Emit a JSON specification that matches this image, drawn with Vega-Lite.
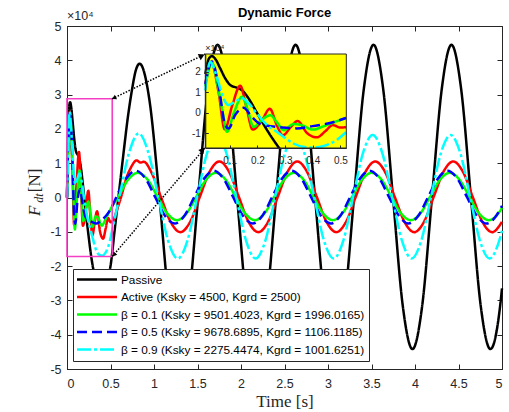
{
"$schema":"https://vega.github.io/schema/vega-lite/v6.json",
"width":435,"height":343,
"autosize":{"type":"none"},
"padding":{"left":67,"top":26,"right":7,"bottom":43},
"config":{
 "view":{"stroke":"#262626","strokeWidth":1},
 "axis":{"grid":false,"domainColor":"#262626","tickColor":"#262626","labelColor":"#262626","labelFont":"Liberation Sans","labelFontSize":12.5,"tickSize":-5,"labelOverlap":false,"titleFont":"Liberation Serif","titleFontWeight":"normal","titleColor":"#262626"}
},
"title":{"text":"Dynamic Force","font":"Liberation Sans","fontSize":13,"fontWeight":"bold","color":"#000000","offset":-10},
"data":{"values":[
{"s":"P","t":0,"v":0},{"s":"P","t":0.012,"v":1.9},{"s":"P","t":0.025,"v":2.65},{"s":"P","t":0.036,"v":2.78},{"s":"P","t":0.05,"v":2.6},{"s":"P","t":0.065,"v":2.2},{"s":"P","t":0.084,"v":1.69},{"s":"P","t":0.102,"v":1.36},{"s":"P","t":0.126,"v":1.23},{"s":"P","t":0.145,"v":1.1},{"s":"P","t":0.168,"v":0.71},{"s":"P","t":0.193,"v":0.13},{"s":"P","t":0.217,"v":-0.44},{"s":"P","t":0.247,"v":-1.1},{"s":"P","t":0.28,"v":-1.75},{"s":"P","t":0.33,"v":-2.4},{"s":"P","t":0.39,"v":-2.7},{"s":"P","t":0.45,"v":-2.45},{"s":"P","t":0.5,"v":-2.0},{"s":"P","t":0.55,"v":-0.9},{"s":"P","t":0.6,"v":0.2},{"s":"P","t":0.65,"v":1.3},{"s":"P","t":0.7,"v":2.35},{"s":"P","t":0.747,"v":3.14},{"s":"P","t":0.79,"v":3.7},{"s":"P","t":0.835,"v":3.9},{"s":"P","t":0.947,"v":2.85},{"s":"P","t":1.059,"v":0.1},{"s":"P","t":1.171,"v":-3.0},{"s":"P","t":1.283,"v":-4.3},{"s":"P","t":1.395,"v":-3.1},{"s":"P","t":1.507,"v":0},{"s":"P","t":1.619,"v":3.15},{"s":"P","t":1.731,"v":4.45},{"s":"P","t":1.843,"v":3.15},{"s":"P","t":1.955,"v":0},{"s":"P","t":2.067,"v":-3.15},{"s":"P","t":2.179,"v":-4.45},{"s":"P","t":2.291,"v":-3.15},{"s":"P","t":2.403,"v":0},{"s":"P","t":2.515,"v":3.15},{"s":"P","t":2.627,"v":4.45},{"s":"P","t":2.739,"v":3.15},{"s":"P","t":2.851,"v":0},{"s":"P","t":2.963,"v":-3.15},{"s":"P","t":3.075,"v":-4.45},{"s":"P","t":3.187,"v":-3.15},{"s":"P","t":3.299,"v":0},{"s":"P","t":3.411,"v":3.15},{"s":"P","t":3.523,"v":4.45},{"s":"P","t":3.635,"v":3.15},{"s":"P","t":3.747,"v":0},{"s":"P","t":3.859,"v":-3.15},{"s":"P","t":3.971,"v":-4.42},{"s":"P","t":4.083,"v":-3.15},{"s":"P","t":4.195,"v":0},{"s":"P","t":4.307,"v":3.15},{"s":"P","t":4.419,"v":4.45},{"s":"P","t":4.531,"v":3.15},{"s":"P","t":4.643,"v":0},{"s":"P","t":4.755,"v":-3.15},{"s":"P","t":4.867,"v":-4.42},{"s":"P","t":4.979,"v":-3.15},{"s":"P","t":5.0,"v":-2.65},
{"s":"A","t":0,"v":0},{"s":"A","t":0.012,"v":1.4},{"s":"A","t":0.033,"v":2.5},{"s":"A","t":0.06,"v":1.0},{"s":"A","t":0.082,"v":-0.8},{"s":"A","t":0.11,"v":0.4},{"s":"A","t":0.138,"v":1.33},{"s":"A","t":0.16,"v":0.3},{"s":"A","t":0.183,"v":-0.82},{"s":"A","t":0.215,"v":-0.4},{"s":"A","t":0.245,"v":0.2},{"s":"A","t":0.27,"v":-0.6},{"s":"A","t":0.292,"v":-1.1},{"s":"A","t":0.32,"v":-0.7},{"s":"A","t":0.345,"v":-0.4},{"s":"A","t":0.38,"v":-1.0},{"s":"A","t":0.415,"v":-1.2},{"s":"A","t":0.445,"v":-0.9},{"s":"A","t":0.472,"v":-0.6},{"s":"A","t":0.5,"v":-0.72},{"s":"A","t":0.52,"v":-0.7},{"s":"A","t":0.575,"v":-0.35},{"s":"A","t":0.62,"v":0.0},{"s":"A","t":0.68,"v":0.55},{"s":"A","t":0.73,"v":0.85},{"s":"A","t":0.8,"v":1.08},{"s":"A","t":0.845,"v":1.02},{"s":"A","t":0.885,"v":1.04},{"s":"A","t":0.967,"v":0.75},{"s":"A","t":1.079,"v":0.02},{"s":"A","t":1.191,"v":-0.71},{"s":"A","t":1.303,"v":-1.01},{"s":"A","t":1.415,"v":-0.71},{"s":"A","t":1.527,"v":0.02},{"s":"A","t":1.639,"v":0.75},{"s":"A","t":1.751,"v":1.05},{"s":"A","t":1.863,"v":0.75},{"s":"A","t":1.975,"v":0.02},{"s":"A","t":2.087,"v":-0.71},{"s":"A","t":2.199,"v":-1.01},{"s":"A","t":2.311,"v":-0.71},{"s":"A","t":2.423,"v":0.02},{"s":"A","t":2.535,"v":0.75},{"s":"A","t":2.647,"v":1.05},{"s":"A","t":2.759,"v":0.75},{"s":"A","t":2.871,"v":0.02},{"s":"A","t":2.983,"v":-0.71},{"s":"A","t":3.095,"v":-1.01},{"s":"A","t":3.207,"v":-0.71},{"s":"A","t":3.319,"v":0.02},{"s":"A","t":3.431,"v":0.75},{"s":"A","t":3.543,"v":1.05},{"s":"A","t":3.655,"v":0.75},{"s":"A","t":3.767,"v":0.02},{"s":"A","t":3.879,"v":-0.71},{"s":"A","t":3.991,"v":-1.01},{"s":"A","t":4.103,"v":-0.71},{"s":"A","t":4.215,"v":0.02},{"s":"A","t":4.327,"v":0.75},{"s":"A","t":4.439,"v":1.05},{"s":"A","t":4.551,"v":0.75},{"s":"A","t":4.663,"v":0.02},{"s":"A","t":4.775,"v":-0.71},{"s":"A","t":4.887,"v":-1.01},{"s":"A","t":4.999,"v":-0.71},
{"s":"B1","t":0,"v":0},{"s":"B1","t":0.012,"v":1.3},{"s":"B1","t":0.036,"v":2.43},{"s":"B1","t":0.06,"v":1.1},{"s":"B1","t":0.075,"v":0.0},{"s":"B1","t":0.09,"v":-0.93},{"s":"B1","t":0.115,"v":0.0},{"s":"B1","t":0.145,"v":0.79},{"s":"B1","t":0.165,"v":0.15},{"s":"B1","t":0.186,"v":-0.69},{"s":"B1","t":0.215,"v":-0.35},{"s":"B1","t":0.247,"v":-0.12},{"s":"B1","t":0.27,"v":-0.45},{"s":"B1","t":0.295,"v":-0.85},{"s":"B1","t":0.33,"v":-0.55},{"s":"B1","t":0.36,"v":-0.6},{"s":"B1","t":0.4,"v":-0.82},{"s":"B1","t":0.44,"v":-0.65},{"s":"B1","t":0.479,"v":-0.45},{"s":"B1","t":0.52,"v":-0.25},{"s":"B1","t":0.591,"v":0.03},{"s":"B1","t":0.703,"v":0.52},{"s":"B1","t":0.815,"v":0.72},{"s":"B1","t":0.927,"v":0.52},{"s":"B1","t":1.039,"v":0.03},{"s":"B1","t":1.151,"v":-0.46},{"s":"B1","t":1.263,"v":-0.66},{"s":"B1","t":1.375,"v":-0.46},{"s":"B1","t":1.487,"v":0.03},{"s":"B1","t":1.599,"v":0.52},{"s":"B1","t":1.711,"v":0.72},{"s":"B1","t":1.823,"v":0.52},{"s":"B1","t":1.935,"v":0.03},{"s":"B1","t":2.047,"v":-0.46},{"s":"B1","t":2.159,"v":-0.66},{"s":"B1","t":2.271,"v":-0.46},{"s":"B1","t":2.383,"v":0.03},{"s":"B1","t":2.495,"v":0.52},{"s":"B1","t":2.607,"v":0.72},{"s":"B1","t":2.719,"v":0.52},{"s":"B1","t":2.831,"v":0.03},{"s":"B1","t":2.943,"v":-0.46},{"s":"B1","t":3.055,"v":-0.66},{"s":"B1","t":3.167,"v":-0.46},{"s":"B1","t":3.279,"v":0.03},{"s":"B1","t":3.391,"v":0.52},{"s":"B1","t":3.503,"v":0.72},{"s":"B1","t":3.615,"v":0.52},{"s":"B1","t":3.727,"v":0.03},{"s":"B1","t":3.839,"v":-0.46},{"s":"B1","t":3.951,"v":-0.66},{"s":"B1","t":4.063,"v":-0.46},{"s":"B1","t":4.175,"v":0.03},{"s":"B1","t":4.287,"v":0.52},{"s":"B1","t":4.399,"v":0.72},{"s":"B1","t":4.511,"v":0.52},{"s":"B1","t":4.623,"v":0.03},{"s":"B1","t":4.735,"v":-0.46},{"s":"B1","t":4.847,"v":-0.66},{"s":"B1","t":4.959,"v":-0.46},{"s":"B1","t":5.0,"v":-0.3},
{"s":"B5","t":0,"v":0},{"s":"B5","t":0.012,"v":1.4},{"s":"B5","t":0.036,"v":2.51},{"s":"B5","t":0.06,"v":1.3},{"s":"B5","t":0.084,"v":-0.6},{"s":"B5","t":0.096,"v":-0.77},{"s":"B5","t":0.12,"v":-0.1},{"s":"B5","t":0.15,"v":0.25},{"s":"B5","t":0.18,"v":-0.2},{"s":"B5","t":0.21,"v":-0.55},{"s":"B5","t":0.247,"v":-0.65},{"s":"B5","t":0.29,"v":-0.72},{"s":"B5","t":0.342,"v":-0.76},{"s":"B5","t":0.4,"v":-0.65},{"s":"B5","t":0.454,"v":-0.52},{"s":"B5","t":0.52,"v":-0.25},{"s":"B5","t":0.566,"v":0.01},{"s":"B5","t":0.678,"v":0.55},{"s":"B5","t":0.79,"v":0.78},{"s":"B5","t":0.902,"v":0.55},{"s":"B5","t":1.014,"v":0.01},{"s":"B5","t":1.126,"v":-0.53},{"s":"B5","t":1.238,"v":-0.76},{"s":"B5","t":1.35,"v":-0.53},{"s":"B5","t":1.462,"v":0.01},{"s":"B5","t":1.574,"v":0.55},{"s":"B5","t":1.686,"v":0.78},{"s":"B5","t":1.798,"v":0.55},{"s":"B5","t":1.91,"v":0.01},{"s":"B5","t":2.022,"v":-0.53},{"s":"B5","t":2.134,"v":-0.76},{"s":"B5","t":2.246,"v":-0.53},{"s":"B5","t":2.358,"v":0.01},{"s":"B5","t":2.47,"v":0.55},{"s":"B5","t":2.582,"v":0.78},{"s":"B5","t":2.694,"v":0.55},{"s":"B5","t":2.806,"v":0.01},{"s":"B5","t":2.918,"v":-0.53},{"s":"B5","t":3.03,"v":-0.76},{"s":"B5","t":3.142,"v":-0.53},{"s":"B5","t":3.254,"v":0.01},{"s":"B5","t":3.366,"v":0.55},{"s":"B5","t":3.478,"v":0.78},{"s":"B5","t":3.59,"v":0.55},{"s":"B5","t":3.702,"v":0.01},{"s":"B5","t":3.814,"v":-0.53},{"s":"B5","t":3.926,"v":-0.76},{"s":"B5","t":4.038,"v":-0.53},{"s":"B5","t":4.15,"v":0.01},{"s":"B5","t":4.262,"v":0.55},{"s":"B5","t":4.374,"v":0.78},{"s":"B5","t":4.486,"v":0.55},{"s":"B5","t":4.598,"v":0.01},{"s":"B5","t":4.71,"v":-0.53},{"s":"B5","t":4.822,"v":-0.76},{"s":"B5","t":4.934,"v":-0.53},{"s":"B5","t":5.0,"v":-0.24},
{"s":"B9","t":0,"v":0},{"s":"B9","t":0.012,"v":1.1},{"s":"B9","t":0.03,"v":2.5},{"s":"B9","t":0.048,"v":2.0},{"s":"B9","t":0.066,"v":1.2},{"s":"B9","t":0.084,"v":0.54},{"s":"B9","t":0.096,"v":0.38},{"s":"B9","t":0.12,"v":0.55},{"s":"B9","t":0.145,"v":0.71},{"s":"B9","t":0.17,"v":0.45},{"s":"B9","t":0.193,"v":0.05},{"s":"B9","t":0.235,"v":-0.6},{"s":"B9","t":0.265,"v":-0.88},{"s":"B9","t":0.295,"v":-1.18},{"s":"B9","t":0.33,"v":-1.5},{"s":"B9","t":0.37,"v":-1.67},{"s":"B9","t":0.405,"v":-1.7},{"s":"B9","t":0.44,"v":-1.62},{"s":"B9","t":0.489,"v":-1.3},{"s":"B9","t":0.52,"v":-0.95},{"s":"B9","t":0.601,"v":0.0},{"s":"B9","t":0.713,"v":1.3},{"s":"B9","t":0.825,"v":1.87},{"s":"B9","t":0.937,"v":1.29},{"s":"B9","t":1.049,"v":0.02},{"s":"B9","t":1.161,"v":-1.25},{"s":"B9","t":1.273,"v":-1.78},{"s":"B9","t":1.385,"v":-1.25},{"s":"B9","t":1.497,"v":0.02},{"s":"B9","t":1.609,"v":1.29},{"s":"B9","t":1.721,"v":1.82},{"s":"B9","t":1.833,"v":1.29},{"s":"B9","t":1.945,"v":0.02},{"s":"B9","t":2.057,"v":-1.25},{"s":"B9","t":2.169,"v":-1.78},{"s":"B9","t":2.281,"v":-1.25},{"s":"B9","t":2.393,"v":0.02},{"s":"B9","t":2.505,"v":1.29},{"s":"B9","t":2.617,"v":1.82},{"s":"B9","t":2.729,"v":1.29},{"s":"B9","t":2.841,"v":0.02},{"s":"B9","t":2.953,"v":-1.25},{"s":"B9","t":3.065,"v":-1.78},{"s":"B9","t":3.177,"v":-1.25},{"s":"B9","t":3.289,"v":0.02},{"s":"B9","t":3.401,"v":1.29},{"s":"B9","t":3.513,"v":1.82},{"s":"B9","t":3.625,"v":1.29},{"s":"B9","t":3.737,"v":0.02},{"s":"B9","t":3.849,"v":-1.25},{"s":"B9","t":3.961,"v":-1.78},{"s":"B9","t":4.073,"v":-1.25},{"s":"B9","t":4.185,"v":0.02},{"s":"B9","t":4.297,"v":1.29},{"s":"B9","t":4.409,"v":1.82},{"s":"B9","t":4.521,"v":1.29},{"s":"B9","t":4.633,"v":0.02},{"s":"B9","t":4.745,"v":-1.25},{"s":"B9","t":4.857,"v":-1.78},{"s":"B9","t":4.969,"v":-1.25},{"s":"B9","t":5.0,"v":-0.97}
]},
"layer":[
 {"layer":[
  {"mark":{"type":"line","strokeWidth":2.5,"interpolate":"monotone"},
   "encoding":{
    "x":{"field":"t","type":"quantitative","scale":{"domain":[0,5],"nice":false,"zero":false},
         "axis":{"orient":"bottom","values":[0,0.5,1,1.5,2,2.5,3,3.5,4,4.5,5],"labelExpr":"''+datum.value","labelPadding":13,"title":"Time [s]","titleFontSize":17,"titlePadding":4}},
    "y":{"field":"v","type":"quantitative","scale":{"domain":[-5,5],"nice":false,"zero":false},
         "axis":{"orient":"left","values":[-5,-4,-3,-2,-1,0,1,2,3,4,5],"tickCount":11,"labelOverlap":false,"labelSeparation":0,"labelExpr":"''+datum.value","labelPadding":11,"title":null}},
    "color":{"field":"s","type":"nominal","scale":{"domain":["P","A","B1","B5","B9"],"range":["#000000","#ff0000","#00ff00","#0000ff","#00ffff"]},
      "legend":{"orient":"none","legendX":6,"legendY":243,"title":null,"fillColor":"#ffffff","strokeColor":"#262626","padding":4,"symbolType":"M-1.3,0H6.7","symbolSize":100,"symbolStrokeWidth":2.5,"labelFont":"Liberation Sans","labelFontSize":11.8,"labelColor":"#000000","labelOffset":31,"labelLimit":400,"rowPadding":3.5,
        "labelExpr":"datum.label=='P'?'Passive':datum.label=='A'?'Active (Ksky = 4500, Kgrd = 2500)':datum.label=='B1'?'β = 0.1 (Ksky = 9501.4023, Kgrd = 1996.0165)':datum.label=='B5'?'β = 0.5 (Ksky = 9678.6895, Kgrd = 1106.1185)':'β = 0.9 (Ksky = 2275.4474, Kgrd = 1001.6251)'"}},
    "strokeDash":{"field":"s","type":"nominal","scale":{"domain":["P","A","B1","B5","B9"],"range":[[1,0],[1,0],[1,0],[10,5],[14,3,3,3]]}}
   }},
  {"data":{"values":[{}]},"mark":{"type":"rect","fillOpacity":0,"stroke":"#f23fc4","strokeWidth":1.6},
   "encoding":{"x":{"datum":0},"x2":{"datum":0.52},"y":{"datum":-1.72},"y2":{"datum":2.88}}},
  {"data":{"values":[{}]},"mark":{"type":"rule","color":"#000000","strokeWidth":1.5,"strokeDash":[1.5,1.5]},
   "encoding":{"x":{"datum":0.52},"x2":{"datum":1.59},"y":{"datum":2.88},"y2":{"datum":4.183}}},
  {"data":{"values":[{}]},"mark":{"type":"rule","color":"#000000","strokeWidth":1.5,"strokeDash":[1.5,1.5]},
   "encoding":{"x":{"datum":0.52},"x2":{"datum":1.59},"y":{"datum":-1.72},"y2":{"datum":1.458}}},
  {"data":{"values":[{}]},"mark":{"type":"point","shape":"triangle-up","filled":true,"color":"#000000","opacity":1,"size":45,"angle":64},
   "encoding":{"x":{"datum":1.55},"y":{"datum":4.13}}},
  {"data":{"values":[{}]},"mark":{"type":"point","shape":"triangle-up","filled":true,"color":"#000000","opacity":1,"size":25,"angle":244},
   "encoding":{"x":{"datum":0.54},"y":{"datum":2.9}}},
  {"data":{"values":[{}]},"mark":{"type":"point","shape":"triangle-up","filled":true,"color":"#000000","opacity":1,"size":45,"angle":40},
   "encoding":{"x":{"datum":1.56},"y":{"datum":1.39}}},
  {"data":{"values":[{}]},"mark":{"type":"point","shape":"triangle-up","filled":true,"color":"#000000","opacity":1,"size":25,"angle":220},
   "encoding":{"x":{"datum":0.54},"y":{"datum":-1.67}}},
  {"data":{"values":[{}]},"mark":{"type":"text","text":"×10⁴","align":"left","baseline":"bottom","dy":-3,"fontSize":12.5,"font":"Liberation Sans","color":"#262626"},
   "encoding":{"x":{"datum":0},"y":{"datum":5}}},
  {"data":{"values":[{}]},"mark":{"type":"text","text":"F","align":"center","baseline":"middle","angle":270,"fontSize":17,"font":"Liberation Serif","fontStyle":"italic","color":"#262626"},
   "encoding":{"x":{"datum":-0.37},"y":{"datum":-0.39}}},
  {"data":{"values":[{}]},"mark":{"type":"text","text":"dt","align":"center","baseline":"middle","angle":270,"fontSize":12,"font":"Liberation Serif","fontStyle":"italic","color":"#262626"},
   "encoding":{"x":{"datum":-0.32},"y":{"datum":-0.02}}},
  {"data":{"values":[{}]},"mark":{"type":"text","text":"[N]","align":"center","baseline":"middle","angle":270,"fontSize":17,"font":"Liberation Serif","color":"#262626"},
   "encoding":{"x":{"datum":-0.37},"y":{"datum":0.5}}}
 ]},
 {"mark":{"type":"point","opacity":0},
  "encoding":{
   "x":{"field":"t","type":"quantitative","scale":{"domain":[0,5],"nice":false,"zero":false},"axis":{"orient":"top","values":[0,0.5,1,1.5,2,2.5,3,3.5,4,4.5,5],"labels":false,"domain":false,"title":null}},
   "y":{"field":"v","type":"quantitative","scale":{"domain":[-5,5],"nice":false,"zero":false},"axis":{"orient":"right","values":[-5,-4,-3,-2,-1,0,1,2,3,4,5],"labels":false,"domain":false,"title":null}}
  }},
 {"layer":[
  {"data":{"values":[{}]},"mark":{"type":"rect","fill":"#ffff00"},
   "encoding":{"x":{"datum":0.012},"x2":{"datum":0.521},"y":{"datum":-1.72},"y2":{"datum":2.88}}},
  {"transform":[{"filter":"datum.t >= 0.012 && datum.t <= 0.521 && datum.v >= -1.8"}],
   "mark":{"type":"line","strokeWidth":2.5,"interpolate":"monotone"},
   "encoding":{
    "x":{"field":"t","type":"quantitative","scale":{"domain":[0.012,0.521],"range":[138.3,279.3],"nice":false,"zero":false},
         "axis":{"orient":"bottom","offset":-221,"values":[0.1,0.2,0.3,0.4,0.5],"labelExpr":"''+datum.value","labelFontSize":10,"tickSize":-3,"labelPadding":10,"title":null,"zindex":1}},
    "y":{"field":"v","type":"quantitative","scale":{"domain":[-1.72,2.88],"range":[122,28],"nice":false,"zero":false},
         "axis":{"orient":"left","offset":-138.3,"values":[-1,0,1,2],"labelOverlap":false,"labelExpr":"''+datum.value","labelFontSize":10,"tickSize":-3,"labelPadding":8,"title":null,"zindex":1}},
    "color":{"field":"s","type":"nominal"},
    "strokeDash":{"field":"s","type":"nominal"}
   }},
  {"data":{"values":[{}]},"mark":{"type":"rect","fillOpacity":0,"stroke":"#262626","strokeWidth":1},
   "encoding":{"x":{"datum":0.012},"x2":{"datum":0.521},"y":{"datum":-1.72},"y2":{"datum":2.88}}},
  {"data":{"values":[{}]},"mark":{"type":"text","text":"×10⁴","align":"left","baseline":"bottom","dy":-1,"fontSize":9,"font":"Liberation Sans","color":"#262626"},
   "encoding":{"x":{"datum":0.012},"y":{"datum":2.88}}}
 ]}
],
"resolve":{"scale":{"x":"independent","y":"independent"}}
}
